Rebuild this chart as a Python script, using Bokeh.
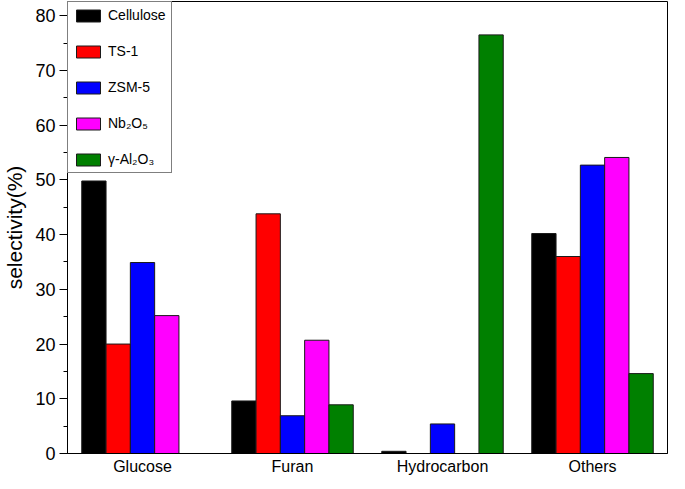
from bokeh.plotting import figure
from bokeh.models import ColumnDataSource, Legend, LegendItem, Range1d, FactorRange, SingleIntervalTicker
from bokeh.transform import dodge
from bokeh.embed import file_html
from bokeh.resources import INLINE

categories = ["Glucose", "Furan", "Hydrocarbon", "Others"]
series_names = ["Cellulose", "TS-1", "ZSM-5", "Nb\u2082O\u2085", "\u03b3-Al\u2082O\u2083"]
cellulose = [49.8, 9.6, 0.4, 40.2]
ts1 = [20.0, 43.8, 0.0, 36.0]
zsm5 = [34.9, 6.9, 5.4, 52.7]
nb2o5 = [25.2, 20.7, 0.0, 54.1]
al2o3 = [0.0, 8.9, 76.5, 14.6]
colors = ["#000000", "#ff0000", "#0000ff", "#ff00ff", "#008000"]

src = ColumnDataSource(dict(cat=categories, s0=cellulose, s1=ts1, s2=zsm5, s3=nb2o5, s4=al2o3))

FONT = "Liberation Sans"
p = figure(width=669, frame_height=452, x_range=FactorRange(*categories, range_padding=0),
           y_range=Range1d(0, 82.6), output_backend="svg", toolbar_location=None,
           min_border_top=1, min_border_right=2, min_border_left=0, min_border_bottom=0)

bw = 0.162
offsets = [-2 * bw, -bw, 0.0, bw, 2 * bw]
renderers = []
for i, key in enumerate(["s0", "s1", "s2", "s3", "s4"]):
    r = p.vbar(x=dodge("cat", offsets[i], range=p.x_range), top=key, width=bw, source=src,
               fill_color=colors[i], line_color="#1a1a1a", line_width=1)
    renderers.append(r)

legend = Legend(items=[LegendItem(label=series_names[i], renderers=[renderers[i]]) for i in range(5)],
                location="top_left", margin=0, padding=5, spacing=20,
                glyph_width=30, glyph_height=15, label_height=15, label_standoff=5,
                label_text_font=FONT, label_text_font_size="14px", label_text_color="black",
                border_line_color="black", border_line_width=1, background_fill_alpha=1)
p.add_layout(legend)

p.xgrid.visible = False
p.ygrid.visible = False
p.outline_line_color = "black"
p.outline_line_width = 1

p.yaxis.ticker = SingleIntervalTicker(interval=10, num_minor_ticks=2)
p.yaxis.major_tick_out = 8
p.yaxis.major_tick_in = 0
p.yaxis.minor_tick_out = 4
p.yaxis.minor_tick_in = 0
p.yaxis.major_label_standoff = 4
p.yaxis.major_label_text_font = FONT
p.yaxis.major_label_text_font_size = "18px"
p.yaxis.major_label_text_color = "black"
p.yaxis.axis_label = "selectivity(%)"
p.yaxis.axis_label_text_font = FONT
p.yaxis.axis_label_text_font_size = "21px"
p.yaxis.axis_label_text_font_style = "normal"
p.yaxis.axis_label_text_color = "black"
p.yaxis.axis_label_standoff = 6
p.yaxis.axis_line_color = "black"
p.yaxis.major_tick_line_color = "black"
p.yaxis.minor_tick_line_color = "black"

p.xaxis.major_tick_out = 0
p.xaxis.major_tick_in = 0
p.xaxis.major_label_standoff = 4
p.xaxis.axis_label_standoff = 0
p.xaxis.major_label_text_font = FONT
p.xaxis.major_label_text_font_size = "16px"
p.xaxis.major_label_text_color = "black"
p.xaxis.axis_line_color = "black"

open("out.html", "w").write(file_html(p, INLINE))
